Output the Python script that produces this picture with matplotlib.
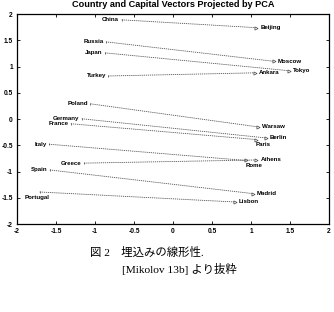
import numpy as np
import matplotlib
matplotlib.use('Agg')
import matplotlib.pyplot as plt

# Country / capital positions
countries = ['China', 'Russia', 'Japan', 'Turkey', 'Poland', 'Germany',
             'France', 'Italy', 'Greece', 'Spain', 'Portugal']
country_x = [-0.66, -0.86, -0.87, -0.83, -1.06, -1.17, -1.31, -1.59, -1.14, -1.58, -1.71]
country_y = [1.89, 1.47, 1.26, 0.82, 0.29, 0.005, -0.09, -0.48, -0.84, -0.97, -1.39]

capitals = ['Beijing', 'Moscow', 'Tokyo', 'Ankara', 'Warsaw', 'Berlin',
            'Paris', 'Rome', 'Athens', 'Madrid', 'Lisbon']
capital_x = [1.07, 1.29, 1.49, 1.05, 1.09, 1.19, 1.06, 0.94, 1.07, 1.02, 0.79]
capital_y = [1.74, 1.10, 0.92, 0.88, -0.15, -0.36, -0.39, -0.79, -0.78, -1.42, -1.58]

# labels drawn underneath the point instead of beside it
below = {'Portugal', 'Paris', 'Rome'}

ticks = [-2, -1.5, -1, -0.5, 0, 0.5, 1, 1.5, 2]
tick_labels = ['-2', '-1.5', '-1', '-0.5', '0', '0.5', '1', '1.5', '2']

title = 'Country and Capital Vectors Projected by PCA'
caption1 = '図 2\u3000埋込みの線形性.'
caption2 = '[Mikolov 13b] より抜粋'

fig = plt.figure(figsize=(3.34, 3.12), dpi=100)
ax = fig.add_axes([0.051, 0.282, 0.934, 0.673])

lab = dict(fontsize=4.4, fontweight='bold', family='Liberation Sans')

for i in range(len(countries)):
    ax.plot([country_x[i], capital_x[i]], [country_y[i], capital_y[i]],
            color='#555555', linestyle=(0, (1.5, 1)), linewidth=0.6)
    ax.plot(capital_x[i], capital_y[i], marker='>', markersize=2.3,
            markerfacecolor='white', markeredgecolor='#444444', markeredgewidth=0.5)
    ax.plot(country_x[i], country_y[i], marker='|', markersize=2,
            color='#444444', markeredgewidth=0.5)

    if countries[i] in below:
        ax.text(country_x[i] - 0.03, country_y[i] - 0.06, countries[i],
                ha='center', va='top', **lab)
    else:
        ax.text(country_x[i] - 0.03, country_y[i], countries[i],
                ha='right', va='center', **lab)
    if capitals[i] in below:
        ax.text(capital_x[i] + 0.1, capital_y[i] - 0.05, capitals[i],
                ha='center', va='top', **lab)
    else:
        ax.text(capital_x[i] + 0.05, capital_y[i], capitals[i],
                ha='left', va='center', **lab)

ax.set_xlim(-2, 2)
ax.set_ylim(-2, 2)
ax.set_xticks(ticks)
ax.set_xticklabels(tick_labels)
ax.set_yticks(ticks)
ax.set_yticklabels(tick_labels)
ax.tick_params(direction='in', length=2.5, width=0.6, top=True, right=True,
               labelsize=4.8, pad=3)
for t in ax.get_xticklabels() + ax.get_yticklabels():
    t.set_fontweight('bold')
    t.set_family('Liberation Sans')
for s in ax.spines.values():
    s.set_linewidth(0.9)

fig.text(0.518, 0.985, title, ha='center', va='center', fontsize=6.6,
         fontweight='bold', family='Liberation Sans')

cap_font = ['Liberation Serif', 'Noto Sans CJK JP']
fig.text(0.27, 0.19, caption1, ha='left', va='center', fontsize=8.2, family=cap_font)
fig.text(0.365, 0.138, caption2, ha='left', va='center', fontsize=8.2, family=cap_font)

fig.savefig('out.png', dpi=100)
